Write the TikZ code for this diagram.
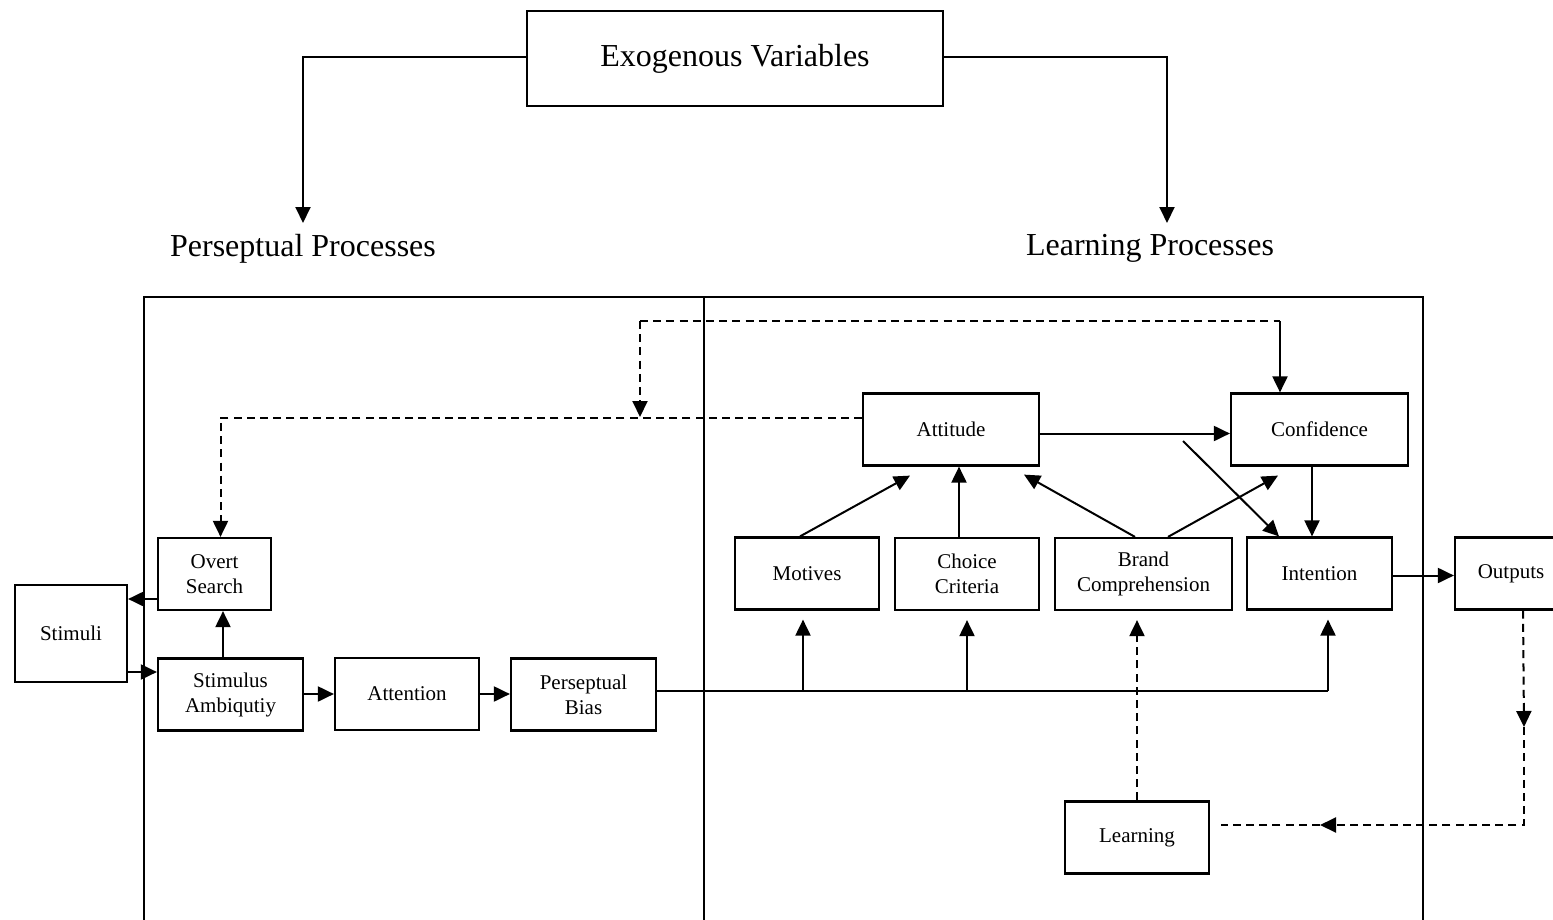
\documentclass[tikz,border=0pt]{standalone}
\usepackage{fontspec}
\setmainfont{Liberation Serif}
\usetikzlibrary{arrows.meta,calc}
\begin{document}
\begin{tikzpicture}[x=0.5pt,y=-0.5pt,
  box/.style={draw, line width=1.1pt, inner sep=0pt, align=center, font=\fontsize{10.5}{12.5}\selectfont, minimum height=36pt},
  big/.style={font=\fontsize{16}{19}\selectfont},
  conn/.style={line width=1pt},
  arr/.style={conn, -{Triangle[length=8pt,width=7.5pt]}},
  dl/.style={dash pattern=on 4pt off 2.6pt},
  frame/.style={line width=1.1pt}]
\useasboundingbox (0,0) rectangle (1553,920);
\clip (0,0) rectangle (1553,920);

% top
\node[box, big, minimum width=208pt, minimum height=47.5pt] (exo) at (735,58.5) {Exogenous Variables};
\node[big, inner sep=0pt] (pp) at (303,248.5) {Perseptual Processes};
\node[big, inner sep=0pt] (lp) at (1150,248.5) {Learning Processes};
\coordinate (ppin) at (303,223);
\coordinate (lpin) at (1167,223);
\draw[arr] ($(exo.west)+(0,-1)$) -| (ppin);
\draw[arr] ($(exo.east)+(0,-1)$) -| (lpin);

% frame
\draw[frame] (144,925) |- (1423,297) -- (1423,925);
\draw[frame] (704,297) -- (704,925);

% nodes
\node[box, minimum width=56pt, minimum height=48.5pt] (stimuli) at (71,633.5) {Stimuli};
\node[box, minimum width=56.5pt] (overt) at (214.5,574) {Overt\\Search};
\node[box, minimum width=72.5pt] (stamb) at (230.5,694.5) {Stimulus\\Ambiqutiy};
\node[box, minimum width=72pt] (attn) at (407,694) {Attention};
\node[box, minimum width=72.5pt] (pbias) at (583.5,694.5) {Perseptual\\Bias};
\node[box, minimum width=88pt] (attitude) at (951,429.5) {Attitude};
\node[box, minimum width=88.5pt] (confidence) at (1319.5,429.5) {Confidence};
\node[box, minimum width=72pt] (motives) at (807,573.5) {Motives};
\node[box, minimum width=72pt] (choice) at (967,574) {Choice\\Criteria};
\node[box, minimum width=88.5pt] (brand) at (1143.5,574) {Brand\\Comprehension};
\node[box, minimum width=72.5pt] (intention) at (1319.5,573.5) {Intention};
\node[box, minimum width=56pt] (outputs) at (1511,573.5) {Outputs};
\node[box, minimum width=72pt] (learning) at (1137,837.5) {Learning};

% left connectors
\coordinate (a1) at (0,599);
\coordinate (a2) at (0,672);
\coordinate (a3) at (223,0);
\draw[arr] (overt.west |- a1) -- (stimuli.east |- a1);
\draw[arr] (stimuli.east |- a2) -- (stamb.west |- a2);
\draw[arr] (stamb.north -| a3) -- (overt.south -| a3);
\draw[arr] (stamb.east |- attn) -- (attn.west);
\draw[arr] (attn.east) -- (pbias.west |- attn);

% bus
\coordinate (bus) at (1328,691);
\draw[conn] (pbias.east |- bus) -- (bus);
\draw[arr, shorten >=4.5pt] ($(motives.south |- bus)+(-4,0)$) -- ($(motives.south)+(-4,0)$);
\draw[arr, shorten >=4.5pt] (choice.south |- bus) -- (choice.south);
\draw[arr, shorten >=4.5pt] (bus) -- (intention.south -| bus);

% into attitude / confidence
\draw[arr] ($(motives.north)+(-7,0)$) -- ($(attitude.south)+(-41,9)$);
\draw[arr] ($(choice.north)+(-8,0)$) -- ($(attitude.south)+(8,0)$);
\draw[arr] ($(brand.north)+(-8.5,0)$) -- ($(attitude.south)+(73,8)$);
\draw[arr] ($(brand.north)+(24.5,0)$) -- ($(confidence.south)+(-41.5,9)$);
\draw[arr] ($(attitude.east)+(0,4)$) -- ($(confidence.west)+(0,4)$);
\coordinate (ds) at (1183,441);
\draw[arr] (ds) -- ($(intention.north)+(-40.5,0)$);
\draw[arr] ($(confidence.south)+(-7.5,0)$) -- ($(intention.north)+(-7.5,0)$);
\draw[arr] ($(intention.east)+(0,2)$) -- ($(outputs.west)+(0,2)$);

% dashed feedback
\draw[arr, dl] ($(attitude.west)+(0,-12)$) -| ($(overt.north)+(6,0)$);
\coordinate (lt) at (640,321);
\coordinate (lb) at (640,417);
\coordinate (rt) at (1280,321);
\draw[arr, dl] (lt) -- (lb);
\draw[conn, dl] (lt) -- (rt);
\draw[arr] (rt) -- (confidence.north -| rt);

% outputs loop
\coordinate (m1) at (1524,727);
\coordinate (oc) at (1524,825);
\coordinate (m2) at (1320,825);
\draw[arr, dl] ($(outputs.south)+(12,0)$) -- (m1);
\draw[arr, dl] (m1) -- (oc) -- (m2);
\draw[conn, dl, shorten >=5.5pt] (m2) -- (learning.east |- m2);
\draw[arr, dl, shorten >=4.5pt] (learning.north) -- (learning.north |- brand.south);
\end{tikzpicture}
\end{document}
